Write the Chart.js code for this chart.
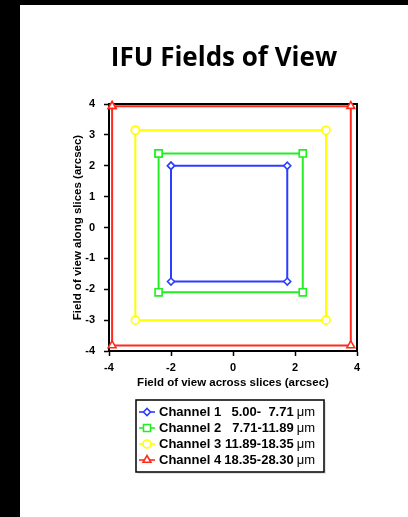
<!DOCTYPE html>
<html>
<head>
<meta charset="utf-8">
<script src="https://cdn.jsdelivr.net/npm/chart.js@4.4.0/dist/chart.umd.min.js"></script>
<style>
  html, body { margin: 0; padding: 0; background: #000; }
  #sheet { position: absolute; left: 20px; top: 5px; width: 388px; height: 512px; background: #fff; }
  canvas { display: block; }
</style>
</head>
<body>
<div id="sheet"><canvas id="fov" width="388" height="512"></canvas></div>
<script>
// Field-of-view footprint of each IFU channel (arcsec)
const channels  = ['Channel 1', 'Channel 2', 'Channel 3', 'Channel 4'];
const waveStart = [5.00, 7.71, 11.89, 18.35];   // µm
const waveEnd   = [7.71, 11.89, 18.35, 28.30];  // µm
const xLeft     = [-2.0, -2.4, -3.15, -3.9];
const xRight    = [1.75, 2.25, 3.0, 3.8];
const yBottom   = [-1.75, -2.1, -3.0, -3.82];
const yTop      = [2.0, 2.4, 3.15, 3.93];
const xTicks    = [-4, -2, 0, 2, 4];
const yTicks    = [-4, -3, -2, -1, 0, 1, 2, 3, 4];

// Styling
const lineColors  = ['#2b3dff', '#22ee22', '#ffff00', '#ff2a1a'];
const markerStyle = ['rectRot', 'rect', 'circle', 'triangle'];
const markerSize  = [3.5, 5, 4, 4.5];

const LABEL_FONT = '"Liberation Sans", Arial, sans-serif';

function outline(i) {
  return [
    { x: xLeft[i],  y: yTop[i] },
    { x: xRight[i], y: yTop[i] },
    { x: xRight[i], y: yBottom[i] },
    { x: xLeft[i],  y: yBottom[i] },
    { x: xLeft[i],  y: yTop[i] }
  ];
}

const datasets = channels.map((name, i) => ({
  label: name,
  data: outline(i),
  showLine: true,
  borderColor: lineColors[i],
  borderWidth: 2,
  tension: 0,
  pointStyle: markerStyle[i],
  pointRadius: markerSize[i],
  pointBorderWidth: 1.6,
  pointBorderColor: lineColors[i],
  pointBackgroundColor: '#ffffff',
  clip: false
}));

// Heading above the plot
const headingPlugin = {
  id: 'heading',
  afterDraw(chart) {
    const ctx = chart.ctx;
    ctx.save();
    ctx.fillStyle = '#000';
    ctx.font = 'bold 26px "Open Sans", sans-serif';
    ctx.textAlign = 'center';
    ctx.textBaseline = 'alphabetic';
    ctx.fillText('IFU Fields of View', 204, 61);
    ctx.restore();
  }
};

// Closed box around the plotting area
const framePlugin = {
  id: 'frame',
  beforeDatasetsDraw(chart) {
    const { ctx, chartArea: a } = chart;
    ctx.save();
    ctx.strokeStyle = '#000';
    ctx.lineWidth = 2;
    ctx.strokeRect(a.left, a.top, a.right - a.left, a.bottom - a.top);
    ctx.restore();
  }
};

// Boxed legend with line + marker swatches
const boxLegendPlugin = {
  id: 'boxLegend',
  afterDraw(chart) {
    const ctx = chart.ctx;
    const box = { left: 116, top: 395, width: 188, height: 72 };
    ctx.save();
    ctx.fillStyle = '#e4e4e4';
    ctx.fillRect(box.left + 2, box.top + 2, box.width, box.height);
    ctx.fillStyle = '#fff';
    ctx.fillRect(box.left, box.top, box.width, box.height);
    ctx.strokeStyle = '#000';
    ctx.lineWidth = 1.5;
    ctx.strokeRect(box.left, box.top, box.width, box.height);

    const unitRight = 295;
    chart.data.datasets.forEach((ds, i) => {
      const y = 407 + i * 16;
      ctx.strokeStyle = ds.borderColor;
      ctx.lineWidth = 1.6;
      ctx.beginPath();
      ctx.moveTo(119, y);
      ctx.lineTo(135, y);
      ctx.stroke();
      ctx.fillStyle = '#fff';
      ctx.strokeStyle = ds.borderColor;
      ctx.lineWidth = 1.6;
      Chart.helpers.drawPoint(ctx, {
        pointStyle: ds.pointStyle,
        radius: ds.pointRadius,
        borderWidth: 1.6
      }, 127, y);

      ctx.fillStyle = '#000';
      ctx.textBaseline = 'middle';
      ctx.textAlign = 'left';
      ctx.font = 'bold 13px ' + LABEL_FONT;
      ctx.fillText(ds.label, 139, y);

      ctx.textAlign = 'right';
      ctx.font = '13px ' + LABEL_FONT;
      const unitW = ctx.measureText('\u03BCm').width;
      ctx.fillText('\u03BCm', unitRight, y);

      ctx.font = 'bold 13px ' + LABEL_FONT;
      const a = waveStart[i].toFixed(2);
      const b = waveEnd[i].toFixed(2);
      const range = a + '-' + (b.length < 5 ? '  ' + b : b);
      ctx.fillText(range, unitRight - unitW - 3, y);
    });
    ctx.restore();
  }
};

const tickFont = { family: LABEL_FONT, size: 11, weight: 'bold' };
const titleFont = { family: LABEL_FONT, size: 11.5, weight: 'bold' };

new Chart(document.getElementById('fov'), {
  type: 'scatter',
  data: { datasets },
  plugins: [headingPlugin, framePlugin, boxLegendPlugin],
  options: {
    responsive: false,
    animation: false,
    layout: { padding: { left: 0, right: 51, top: 99, bottom: 121 } },
    plugins: {
      legend: { display: false },
      title: { display: false },
      tooltip: { enabled: false }
    },
    scales: {
      x: {
        type: 'linear',
        min: -4, max: 4,
        afterBuildTicks(s) { s.ticks = xTicks.map(v => ({ value: v })); },
        afterFit(s) { s.height = 45; },
        ticks: { color: '#000', font: tickFont, padding: 5, maxRotation: 0 },
        grid: { drawOnChartArea: false, drawTicks: true, tickLength: 5, tickColor: '#000', tickWidth: 1.5 },
        border: { display: true, color: '#000', width: 2 },
        title: { display: true, text: 'Field of view across slices (arcsec)', color: '#000', font: titleFont, padding: { top: 0, bottom: 6.5 } }
      },
      y: {
        type: 'linear',
        min: -4, max: 4,
        afterBuildTicks(s) { s.ticks = yTicks.map(v => ({ value: v })); },
        afterFit(s) { s.width = 89; },
        ticks: { color: '#000', font: tickFont, padding: 9 },
        grid: { drawOnChartArea: false, drawTicks: true, tickLength: 5, tickColor: '#000', tickWidth: 1.5 },
        border: { display: true, color: '#000', width: 2 },
        title: { display: true, text: 'Field of view along slices (arcsec)', color: '#000', font: titleFont, padding: { top: 50.5, bottom: 0 } }
      }
    }
  }
});
</script>
</body>
</html>
